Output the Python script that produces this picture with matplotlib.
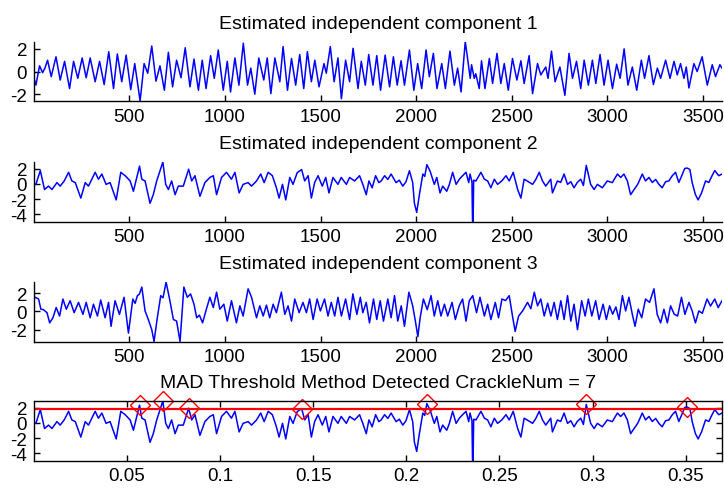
import numpy as np
import matplotlib.pyplot as plt
from matplotlib.ticker import FormatStrFormatter

plt.rcParams['font.family'] = ['Liberation Sans', 'DejaVu Sans']
plt.rcParams['axes.unicode_minus'] = False

fs = 9740.0          # sampling rate (Hz)
n_samples = 3600

# estimated independent components (sample index, amplitude) at turning points
c1_x = [1, 11, 30, 46, 58, 72, 91, 116, 138, 161, 187, 208, 230, 253, 274, 295, 321, 344, 368, 392,
        417, 437, 460, 483, 507, 528, 556, 577, 596, 617, 639, 660, 683, 704, 726, 747, 770, 792, 817, 838,
        861, 881, 901, 925, 944, 965, 991, 1012, 1029, 1052, 1073, 1096, 1118, 1135, 1156, 1177, 1203, 1221, 1240, 1261,
        1287, 1304, 1327, 1348, 1370, 1391, 1412, 1431, 1452, 1470, 1492, 1518, 1530, 1551, 1571, 1591, 1609, 1631, 1652, 1670,
        1696, 1713, 1734, 1752, 1774, 1794, 1814, 1838, 1861, 1881, 1901, 1921, 1939, 1965, 1988, 2008, 2029, 2052, 2069, 2090,
        2109, 2134, 2153, 2177, 2200, 2217, 2235, 2257, 2283, 2290, 2304, 2312, 2330, 2342, 2360, 2383, 2400, 2423, 2443, 2461,
        2482, 2504, 2527, 2548, 2565, 2591, 2609, 2635, 2652, 2678, 2690, 2708, 2727, 2752, 2778, 2800, 2818, 2839, 2861, 2879,
        2901, 2922, 2940, 2962, 2983, 3004, 3027, 3049, 3067, 3088, 3108, 3131, 3154, 3178, 3195, 3218, 3241, 3262, 3279, 3305,
        3328, 3349, 3366, 3383, 3401, 3413, 3427, 3453, 3470, 3496, 3523, 3549, 3566, 3589, 3600]
c1_y = [-0.6, -1.2, 0.5, -0.1, 0.3, 1.0, -0.45, 1.3, -0.75, 0.9, -1.5, 0.9, -0.6, 1.2, -0.55, 1.2, -0.9, 0.9, -1.15, 1.75,
        -1.5, 1.55, -0.9, 1.45, -1.6, 0.7, -2.6, 0.7, -0.15, 2.25, -0.85, 0.5, -1.65, 1.7, -1.35, 1.0, -0.55, 2.1, -1.35, 1.1,
        -1.65, 1.0, -1.5, 1.4, -0.6, 1.9, -1.65, 0.9, -1.8, 1.2, -1.2, 2.5, -1.2, 0.3, -2.0, 1.2, -0.75, 1.2, -1.95, 1.2,
        -0.9, 2.2, -1.65, 1.15, -1.2, 1.5, -1.5, 1.75, -0.9, 1.0, -1.35, 0.7, -0.15, 2.2, -0.9, 1.2, -2.4, 1.0, -0.9, 2.05,
        -1.5, 0.9, -1.2, 1.5, -1.2, 1.4, -1.65, 1.45, -1.35, 1.3, -1.2, 0.95, -1.2, 1.9, -1.65, 0.7, -1.5, 1.9, -0.45, 1.6,
        -1.5, 0.7, -1.5, 1.8, -1.2, 0.3, -1.8, 2.65, -0.6, 0.6, -0.6, -0.2, -1.5, 0.95, -1.5, 1.15, -1.05, 1.6, -1.05, 0.7,
        -1.65, 1.15, -0.75, 0.95, -1.05, 1.4, -1.95, 0.7, -0.3, 0.4, -0.6, 1.8, -0.9, 0.4, -2.1, 1.6, -0.6, 0.9, -1.5, 1.0,
        -1.2, 1.0, -1.05, 1.5, -1.2, 1.0, -1.5, 0.65, -0.6, 2.0, -1.2, 0.4, -1.65, 1.0, -0.6, 1.4, -1.15, 0.3, -0.6, 1.0,
        -0.6, 0.9, -0.3, 0.7, -0.6, 0.4, -1.45, 0.7, 0.0, 1.3, -1.2, 0.6, -0.45, 0.6, 0.3]

c2_x = [1, 11, 34, 56, 77, 95, 121, 138, 159, 182, 199, 217, 246, 269, 286, 321, 338, 356, 378, 399,
        431, 455, 478, 504, 521, 553, 565, 582, 608, 625, 643, 675, 690, 704, 721, 739, 756, 782, 810, 826,
        843, 869, 895, 921, 939, 956, 982, 1008, 1034, 1052, 1074, 1095, 1121, 1139, 1165, 1187, 1205, 1226, 1248, 1269,
        1283, 1301, 1318, 1339, 1356, 1378, 1401, 1417, 1435, 1452, 1469, 1487, 1509, 1527, 1544, 1565, 1591, 1608, 1635, 1652,
        1678, 1704, 1721, 1739, 1753, 1770, 1788, 1805, 1817, 1835, 1852, 1869, 1895, 1912, 1930, 1947, 1965, 1982, 1991, 2003,
        2017, 2035, 2045, 2056, 2073, 2095, 2108, 2125, 2139, 2160, 2174, 2191, 2209, 2226, 2243, 2261, 2275, 2282, 2292, 2295,
        2298, 2301, 2313, 2339, 2357, 2374, 2391, 2409, 2426, 2448, 2470, 2487, 2508, 2531, 2548, 2565, 2587, 2609, 2626, 2644,
        2661, 2678, 2704, 2713, 2739, 2756, 2774, 2792, 2809, 2826, 2843, 2861, 2875, 2890, 2913, 2931, 2948, 2974, 3000, 3026,
        3053, 3070, 3087, 3105, 3122, 3140, 3160, 3183, 3200, 3218, 3235, 3253, 3270, 3287, 3305, 3322, 3340, 3357, 3374, 3388,
        3405, 3418, 3432, 3444, 3461, 3475, 3493, 3514, 3531, 3548, 3562, 3583, 3600]
c2_y = [0.0, -0.05, 1.77, -0.73, -0.28, -0.73, 0.18, -0.28, 0.4, 1.54, 0.4, 0.18, -1.86, 0.18, -0.28, 1.54, 0.63, 1.31, -0.05, 0.18,
        -2.1, 1.54, 1.09, 0.4, -0.96, 2.35, 0.63, 0.4, -2.55, -1.41, 0.4, 2.9, -0.05, -0.73, 0.4, -1.41, -0.28, -0.28, 1.95, 0.4,
        1.09, -1.63, 0.18, 0.86, 1.09, -1.41, 0.86, 1.54, 0.63, 1.54, -1.18, -0.05, 0.18, -0.28, 0.4, 1.31, 0.18, 1.54, 1.09, -0.5,
        -1.86, -0.05, -2.1, 0.86, -0.05, 1.5, 1.9, 0.4, 1.09, -1.86, 0.18, 1.09, -0.28, 0.86, -1.18, 0.86, -0.05, 0.86, -0.05, 0.86,
        0.4, 1.09, -0.05, -1.41, 0.4, -0.5, 1.09, 0.18, 0.4, 1.09, 0.6, 1.31, 0.18, 0.5, -0.28, 0.3, 1.75, 0.18, -2.55, -3.75,
        -1.41, 1.31, 1.0, 2.55, 1.7, -0.05, 0.86, -1.18, -0.28, -0.96, -0.05, 1.54, -0.05, 0.63, 1.09, 1.54, 0.18, 1.31, 0.3, -4.95,
        -4.95, 0.5, 0.4, 1.54, 0.63, 0.4, -0.5, 0.63, -0.05, 0.4, 1.09, 0.4, 1.54, -0.73, -1.86, 0.63, 0.3, -0.05, 0.6, 1.54,
        0.4, -0.28, 0.63, -1.18, 0.4, 0.2, 1.31, -0.05, 0.3, -0.5, 0.2, 0.63, -0.2, 2.45, -0.05, -0.73, -0.05, -0.5, 0.4, 0.18,
        1.31, 0.86, 1.31, 0.4, -1.41, -0.73, 0.0, 1.31, 0.4, 0.86, 0.2, 0.6, -0.05, -0.5, 0.3, 0.4, 1.09, 1.54, 0.2, 1.0,
        2.05, 2.1, 1.9, 0.18, -1.41, -2.1, -1.18, 0.4, 0.2, 1.09, 1.77, 1.09, 1.31]

c3_x = [1, 8, 25, 37, 50, 69, 83, 100, 117, 135, 152, 170, 190, 211, 234, 257, 274, 295, 312, 333,
        350, 373, 391, 404, 425, 448, 472, 495, 518, 530, 542, 552, 565, 582, 599, 617, 629, 646, 664, 676,
        692, 712, 730, 747, 765, 785, 803, 820, 838, 852, 866, 883, 902, 921, 939, 956, 973, 994, 1012, 1034,
        1060, 1078, 1095, 1121, 1139, 1165, 1182, 1200, 1217, 1234, 1252, 1269, 1295, 1313, 1330, 1348, 1365, 1388, 1408, 1426,
        1443, 1461, 1482, 1499, 1521, 1539, 1556, 1574, 1591, 1609, 1631, 1652, 1669, 1690, 1708, 1721, 1739, 1756, 1777, 1794,
        1812, 1829, 1852, 1869, 1887, 1904, 1922, 1939, 1962, 1982, 1996, 2009, 2021, 2038, 2058, 2078, 2095, 2113, 2130, 2148,
        2165, 2188, 2205, 2225, 2243, 2261, 2278, 2296, 2316, 2334, 2357, 2374, 2391, 2414, 2431, 2449, 2468, 2487, 2504, 2518,
        2536, 2557, 2583, 2600, 2618, 2635, 2652, 2670, 2688, 2705, 2722, 2739, 2757, 2774, 2792, 2809, 2826, 2844, 2866, 2884,
        2901, 2919, 2939, 2957, 2978, 2995, 3012, 3028, 3045, 3061, 3079, 3096, 3113, 3131, 3145, 3162, 3180, 3200, 3221, 3244,
        3261, 3279, 3296, 3314, 3331, 3350, 3368, 3388, 3406, 3427, 3444, 3461, 3479, 3497, 3522, 3540, 3562, 3580, 3600]
c3_y = [1.4, 1.56, 1.37, 0.25, 0.2, -0.13, -1.25, -0.69, 0.43, -0.5, 1.37, 0.25, 1.18, -0.13, 1.0, -0.32, 1.0, -0.69, 0.8, -0.5,
        1.26, -0.69, 1.0, -1.63, 1.18, -0.32, 1.56, -2.38, 1.37, 0.9, 1.74, 1.9, 2.68, 0.06, -0.88, -2.0, -3.3, -0.69, 1.74, 1.5,
        3.24, 1.18, -0.88, -1.06, -3.3, 2.68, 1.56, 1.93, 0.8, -0.69, -0.4, -1.25, 0.2, 1.56, 0.43, 2.12, 0.25, 0.8, -1.06, 1.18,
        -1.25, 0.62, -0.5, 2.49, 1.56, -0.69, 0.62, -0.5, 0.7, -0.69, 0.8, -0.13, 2.12, -0.32, 0.62, -1.06, 1.37, -0.13, 1.0, -0.13,
        1.37, -0.88, 1.37, 0.06, 1.37, -0.5, 1.0, -0.5, 1.56, -0.5, 1.37, -0.88, 1.93, -0.32, 1.56, -0.13, 1.0, -1.25, 1.37, -0.88,
        1.18, -1.06, 1.37, -0.69, 1.74, -1.06, 0.62, -1.63, 2.12, 0.62, -1.06, -2.76, -0.69, 1.37, 0.2, 1.74, -0.5, 1.18, -0.5, 0.8,
        -0.5, 1.0, -0.88, 0.6, 1.37, -1.06, 1.18, 1.74, -0.13, 1.56, -0.5, 0.8, -0.88, 1.0, -0.69, 1.37, 1.2, 1.74, -0.5, -2.19,
        -0.5, 0.06, 1.0, 0.3, 2.12, 0.62, 1.37, -0.5, 0.9, -0.5, 1.0, -0.88, 1.18, -0.88, 1.74, -1.06, 0.8, -2.0, 1.18, -0.5,
        1.37, -0.5, 1.18, -0.88, 0.8, -0.88, 0.62, -0.3, 0.5, -0.88, 1.74, 0.06, 1.56, -0.32, -1.63, 0.25, -0.69, 1.37, 1.0, 2.49,
        -0.32, -1.25, 0.25, -1.25, 0.62, -0.3, -0.5, 1.56, -0.32, 1.0, 0.06, -1.25, 0.06, -0.2, 1.37, 0.6, 1.37, 0.43, 1.18]

# MAD threshold and the crackle samples found on component 2
threshold = 1.85
crackle_samples = [553, 675, 810, 1401, 2056, 2890, 3418]

components = [(c1_x, c1_y), (c2_x, c2_y), (c3_x, c3_y)]
titles = ['Estimated independent component 1',
          'Estimated independent component 2',
          'Estimated independent component 3']
yticks = [[-2, 0, 2], [-4, -2, 0, 2], [-2, 0, 2]]

W, H = 724.0, 489.0
fig = plt.figure(figsize=(W / 100, H / 100), dpi=100)

left, right = 34.0, 722.0
tops = [42.5, 163.0, 283.0, 402.0]
height = 59.5
fsize = 13.5


def make_axes(top):
    return fig.add_axes([left / W, 1 - (top + height) / H, (right - left) / W, height / H])


def style(ax, box=False):
    ax.tick_params(direction='in', length=4, width=1, labelsize=fsize, pad=5, colors='black')
    for s in ['top', 'right']:
        ax.spines[s].set_visible(box)
    for s in ax.spines.values():
        s.set_linewidth(1.0)
    if box:
        ax.tick_params(top=True, right=True)


for i, (x, y) in enumerate(components):
    ax = make_axes(tops[i])
    ax.plot(x, y, color='blue', lw=1.1)
    ax.set_xlim(1, n_samples)
    ax.set_ylim(min(y), max(y))
    ax.set_xticks(np.arange(500, 3501, 500))
    ax.set_yticks(yticks[i])
    style(ax)
    ax.set_title(titles[i], fontsize=14, pad=10)

# component 2 against time with the detected crackles
ax = make_axes(tops[3])
t = (np.array(c2_x) - 1) / fs
ax.plot(t, c2_y, color='blue', lw=1.1)
ax.axhline(threshold, color='red', lw=1.6)
ct = [(s - 1) / fs for s in crackle_samples]
cy = [c2_y[c2_x.index(s)] for s in crackle_samples]
ax.plot(ct, cy, 'D', ms=10, mfc='none', mec='red', mew=1.0, clip_on=False)
ax.set_xlim(0, (n_samples - 1) / fs)
ax.set_ylim(min(c2_y), max(c2_y))
ax.set_xticks([0.05, 0.1, 0.15, 0.2, 0.25, 0.3, 0.35])
ax.xaxis.set_major_formatter(FormatStrFormatter('%g'))
ax.set_yticks([-4, -2, 0, 2])
style(ax, box=True)
ax.set_title('MAD Threshold Method Detected CrackleNum = %d' % len(crackle_samples), fontsize=14, pad=10)

fig.savefig('out.png', dpi=100)
